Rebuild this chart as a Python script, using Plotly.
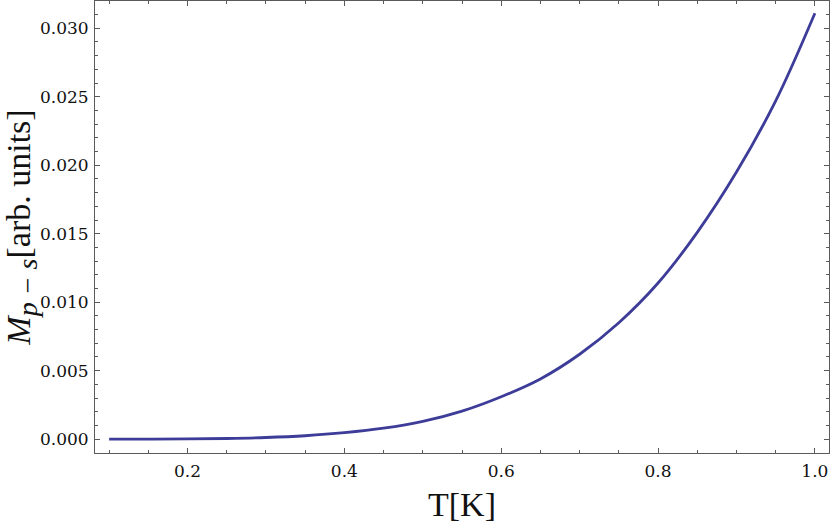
import plotly.graph_objects as go

# Temperature T [K]
T_values = [0.10, 0.15, 0.20, 0.25, 0.30, 0.35, 0.40, 0.45, 0.50, 0.55,
            0.60, 0.65, 0.70, 0.75, 0.80, 0.85, 0.90, 0.95, 1.00]
# M_{p-s} [arb. units]
M_values = [0.0000003, 0.000003, 0.000015, 0.00005, 0.00012, 0.00025, 0.00047, 0.0008,
            0.0013, 0.00205, 0.0031, 0.0044, 0.0062, 0.0085, 0.0114, 0.0151,
            0.0195, 0.0247, 0.0311]

x_tick_vals = [0.2, 0.4, 0.6, 0.8, 1.0]
x_tick_text = ["0.2", "0.4", "0.6", "0.8", "1.0"]
y_tick_vals = [0.0, 0.005, 0.010, 0.015, 0.020, 0.025, 0.030]
y_tick_text = ["0.000", "0.005", "0.010", "0.015", "0.020", "0.025", "0.030"]

frame = "#5a5a5a"
title_family = "Liberation Serif"
tick_family = "DejaVu Serif"

fig = go.Figure()
fig.add_trace(go.Scatter(
    x=T_values, y=M_values, mode="lines",
    line=dict(color="#3d3d99", width=2.8, shape="spline", smoothing=1.0),
    showlegend=False, hoverinfo="skip",
))

axis_common = dict(
    showgrid=False, zeroline=False, showline=True, linecolor=frame, linewidth=1,
    mirror="ticks", ticks="inside", ticklen=5, tickwidth=1, tickcolor=frame,
    tickfont=dict(family=tick_family, size=17, color="#111"),
)

fig.update_xaxes(
    range=[0.082, 1.018], tickmode="array", tickvals=x_tick_vals, ticktext=x_tick_text,
    minor=dict(dtick=0.05, tick0=0.1, ticks="inside", ticklen=3, tickcolor=frame, showgrid=False),
    title=dict(text="T[K]", font=dict(family=title_family, size=34, color="#111"), standoff=11),
    ticklabelstandoff=3,
    **axis_common,
)
fig.update_yaxes(
    range=[-0.00101, 0.03199], tickmode="array", tickvals=y_tick_vals, ticktext=y_tick_text,
    minor=dict(dtick=0.001, tick0=0.0, ticks="inside", ticklen=3, tickcolor=frame, showgrid=False),
    title=dict(text="<i>M</i><sub><span style='font-size:28px'><i>p \u2212 s</i></span></sub>[arb. units]",
               font=dict(family=title_family, size=34, color="#111"), standoff=3),
    ticklabelstandoff=2,
    **axis_common,
)

fig.update_layout(
    width=830, height=526,
    font=dict(family=title_family, size=19, color="#111"),
    margin=dict(l=95, r=1, t=1, b=73, autoexpand=False),
    paper_bgcolor="white", plot_bgcolor="white",
)

fig.write_html("out.html", config={"displayModeBar": False},
               post_script="document.body.style.margin='0';")
